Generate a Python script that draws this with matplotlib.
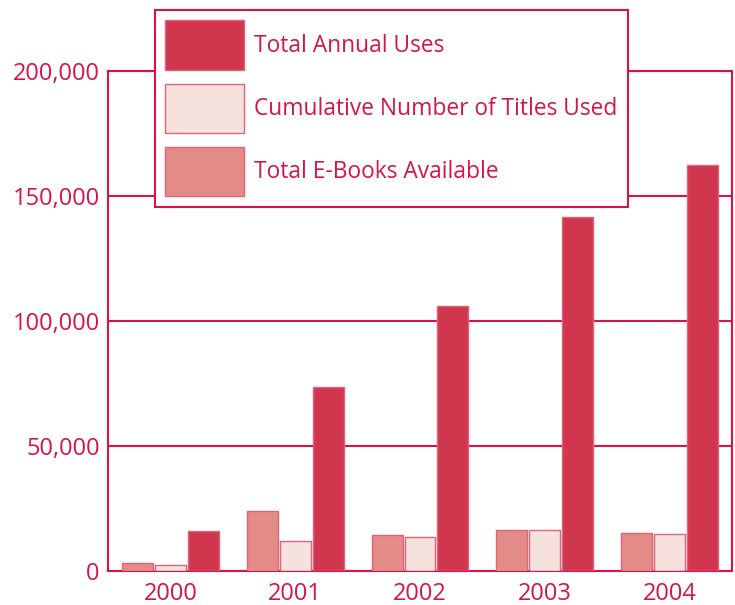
import numpy as np
import matplotlib
matplotlib.use('Agg')
import matplotlib.pyplot as plt
from matplotlib.patches import Patch

years = ['2000', '2001', '2002', '2003', '2004']
ebooks_available = [3100, 23900, 14300, 16400, 15100]
titles_used = [2300, 12100, 13600, 16400, 14800]
annual_uses = [16000, 73600, 106100, 141600, 162400]

red = '#D5154A'
dark = '#D0374E'
medium = '#E38C87'
light = '#F7E1DD'
edge = '#E2617B'

plt.rcParams['font.family'] = ['Open Sans', 'DejaVu Sans']

fig = plt.figure(figsize=(7.35, 6.05), dpi=100)
ax = fig.add_axes([108 / 735, 1 - 571 / 605, 624 / 735, 500 / 605])

x = np.arange(len(years))
w = 0.248
step = 0.264
ax.bar(x - step, ebooks_available, w, color=medium, edgecolor=edge, linewidth=1, zorder=3)
ax.bar(x, titles_used, w, color=light, edgecolor=edge, linewidth=1, zorder=3)
ax.bar(x + step, annual_uses, w, color=dark, edgecolor=edge, linewidth=1, zorder=3)

ax.set_xlim(-0.5, 4.5)
ax.set_ylim(0, 200000)
ax.set_yticks([0, 50000, 100000, 150000, 200000])
ax.set_yticklabels(['0', '50,000', '100,000', '150,000', '200,000'])
ax.set_xticks(x)
ax.set_xticklabels(years)
ax.tick_params(length=0, colors=red, labelsize=17)
ax.tick_params(axis='y', pad=6)
ax.tick_params(axis='x', pad=8)
ax.grid(axis='y', color=red, linewidth=1.5, zorder=0)
ax.set_axisbelow(True)
for s in ax.spines.values():
    s.set_color(red)
    s.set_linewidth(1.5)

handles = [Patch(facecolor=dark, edgecolor=edge),
           Patch(facecolor=light, edgecolor=edge),
           Patch(facecolor=medium, edgecolor=edge)]
labels = ['Total Annual Uses', 'Cumulative Number of Titles Used', 'Total E-Books Available']
leg = ax.legend(handles, labels, loc='upper left', bbox_to_anchor=(155 / 735, 1 - 10 / 605),
                bbox_transform=fig.transFigure, borderaxespad=0, fontsize=16.4,
                handlelength=3.45, handleheight=2.95, labelspacing=0.62, borderpad=0.45,
                handletextpad=0.45, fancybox=False, framealpha=1, labelcolor=red)
leg.get_frame().set_edgecolor(red)
leg.get_frame().set_linewidth(1.5)
leg.set_zorder(10)

fig.savefig('out.png', dpi=100)
